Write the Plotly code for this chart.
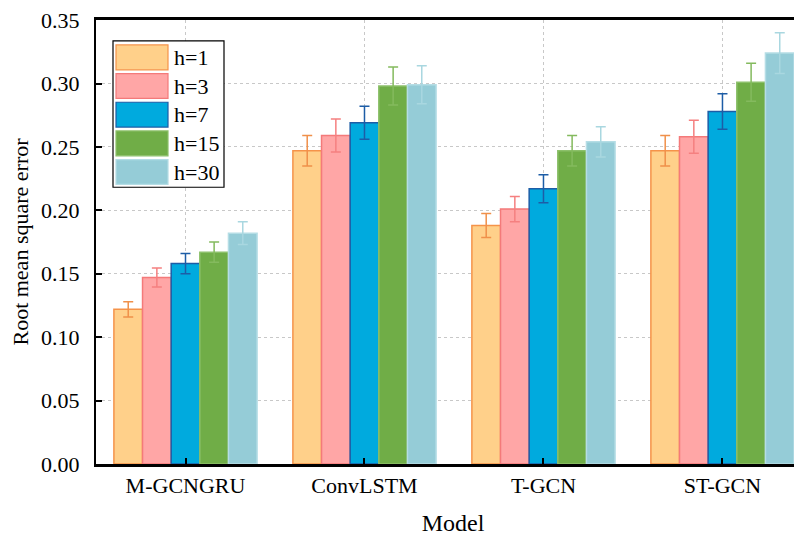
import plotly.graph_objects as go

models = ["M-GCNGRU", "ConvLSTM", "T-GCN", "ST-GCN"]
horizons = ["h=1", "h=3", "h=7", "h=15", "h=30"]

rmse = {
    "h=1":  [0.122, 0.247, 0.188, 0.247],
    "h=3":  [0.147, 0.259, 0.201, 0.258],
    "h=7":  [0.158, 0.269, 0.217, 0.278],
    "h=15": [0.167, 0.298, 0.247, 0.301],
    "h=30": [0.182, 0.299, 0.254, 0.324],
}
err = {
    "h=1":  [0.006, 0.012, 0.0095, 0.012],
    "h=3":  [0.0075, 0.013, 0.010, 0.013],
    "h=7":  [0.008, 0.013, 0.011, 0.014],
    "h=15": [0.008, 0.015, 0.012, 0.015],
    "h=30": [0.009, 0.015, 0.012, 0.016],
}

y_ticks = [0.00, 0.05, 0.10, 0.15, 0.20, 0.25, 0.30, 0.35]

fills = ["#FFD08A", "#FFA6A6", "#00AADE", "#70AD47", "#95CCD7"]
edges = ["#F5934A", "#F47A7A", "#1D5DA6", "#8CC06A", "#B5DDE5"]
ecols = ["#F0904A", "#F58080", "#1D5DA6", "#84BA5E", "#A9D7E0"]

FONT = "Times New Roman, Liberation Serif, serif"
W, H = 802, 542
OFF = 8  # page body margin offset
ML, MR, MT, MB = 88, 0, 10, 86
PW, PH = W - ML - MR, H - MT - MB

fig = go.Figure()
for i, h in enumerate(horizons):
    fig.add_trace(go.Bar(
        x=models, y=rmse[h], name=h,
        marker=dict(color=fills[i], line=dict(color=edges[i], width=1.5)),
        error_y=dict(type="data", array=err[h], visible=True,
                     color=ecols[i], thickness=1.5, width=5),
        showlegend=False,
    ))

# custom legend (large swatches like the reference), screen-pixel helpers
def px_x(p):
    return (p - OFF - ML) / PW

def px_y(p):
    return 1 - (p - OFF - MT) / PH

shapes = [
    dict(type="rect", xref="paper", yref="paper",
         x0=px_x(113), x1=px_x(224), y0=px_y(186), y1=px_y(39),
         line=dict(color="black", width=1.2), fillcolor="white", layer="above"),
]
annotations = []
for i, h in enumerate(horizons):
    top = 43 + i * 28.8
    shapes.append(dict(type="rect", xref="paper", yref="paper",
                       x0=px_x(116), x1=px_x(168), y0=px_y(top + 25), y1=px_y(top),
                       line=dict(color=edges[i], width=1.2), fillcolor=fills[i], layer="above"))
    annotations.append(dict(xref="paper", yref="paper", x=px_x(172), y=px_y(top + 12.5),
                            text=h, showarrow=False, xanchor="left", yanchor="middle",
                            font=dict(family=FONT, size=22, color="black")))

fig.update_layout(
    width=W, height=H,
    margin=dict(l=ML, r=MR, t=MT, b=MB),
    plot_bgcolor="white", paper_bgcolor="white",
    barmode="group", bargap=0.2, bargroupgap=0,
    font=dict(family=FONT, color="black"),
    shapes=shapes, annotations=annotations,
)
fig.update_xaxes(
    range=[-0.5, 3.489], showline=True, linecolor="black", linewidth=2.5,
    mirror=True, ticks="inside", ticklen=6, tickwidth=2, tickcolor="black",
    showgrid=True, gridcolor="#C8C8C8", griddash="dot", gridwidth=1,
    tickfont=dict(family=FONT, size=22, color="black"),
    title=dict(text="Model", font=dict(family=FONT, size=24, color="black"), standoff=18),
)
fig.update_yaxes(
    range=[0, 0.3501], tickvals=y_ticks, ticktext=[f"{v:.2f}" for v in y_ticks],
    showline=True, linecolor="black", linewidth=2,
    ticks="inside", ticklen=6, tickwidth=2, tickcolor="black",
    showgrid=True, gridcolor="#C8C8C8", griddash="dot", gridwidth=1,
    zeroline=False, ticklabelstandoff=10, ticklabeloverflow="allow",
    tickfont=dict(family=FONT, size=22, color="black"),
    title=dict(text="Root mean square error", font=dict(family=FONT, size=22, color="black"), standoff=8),
)

fig.write_html("out.html")
